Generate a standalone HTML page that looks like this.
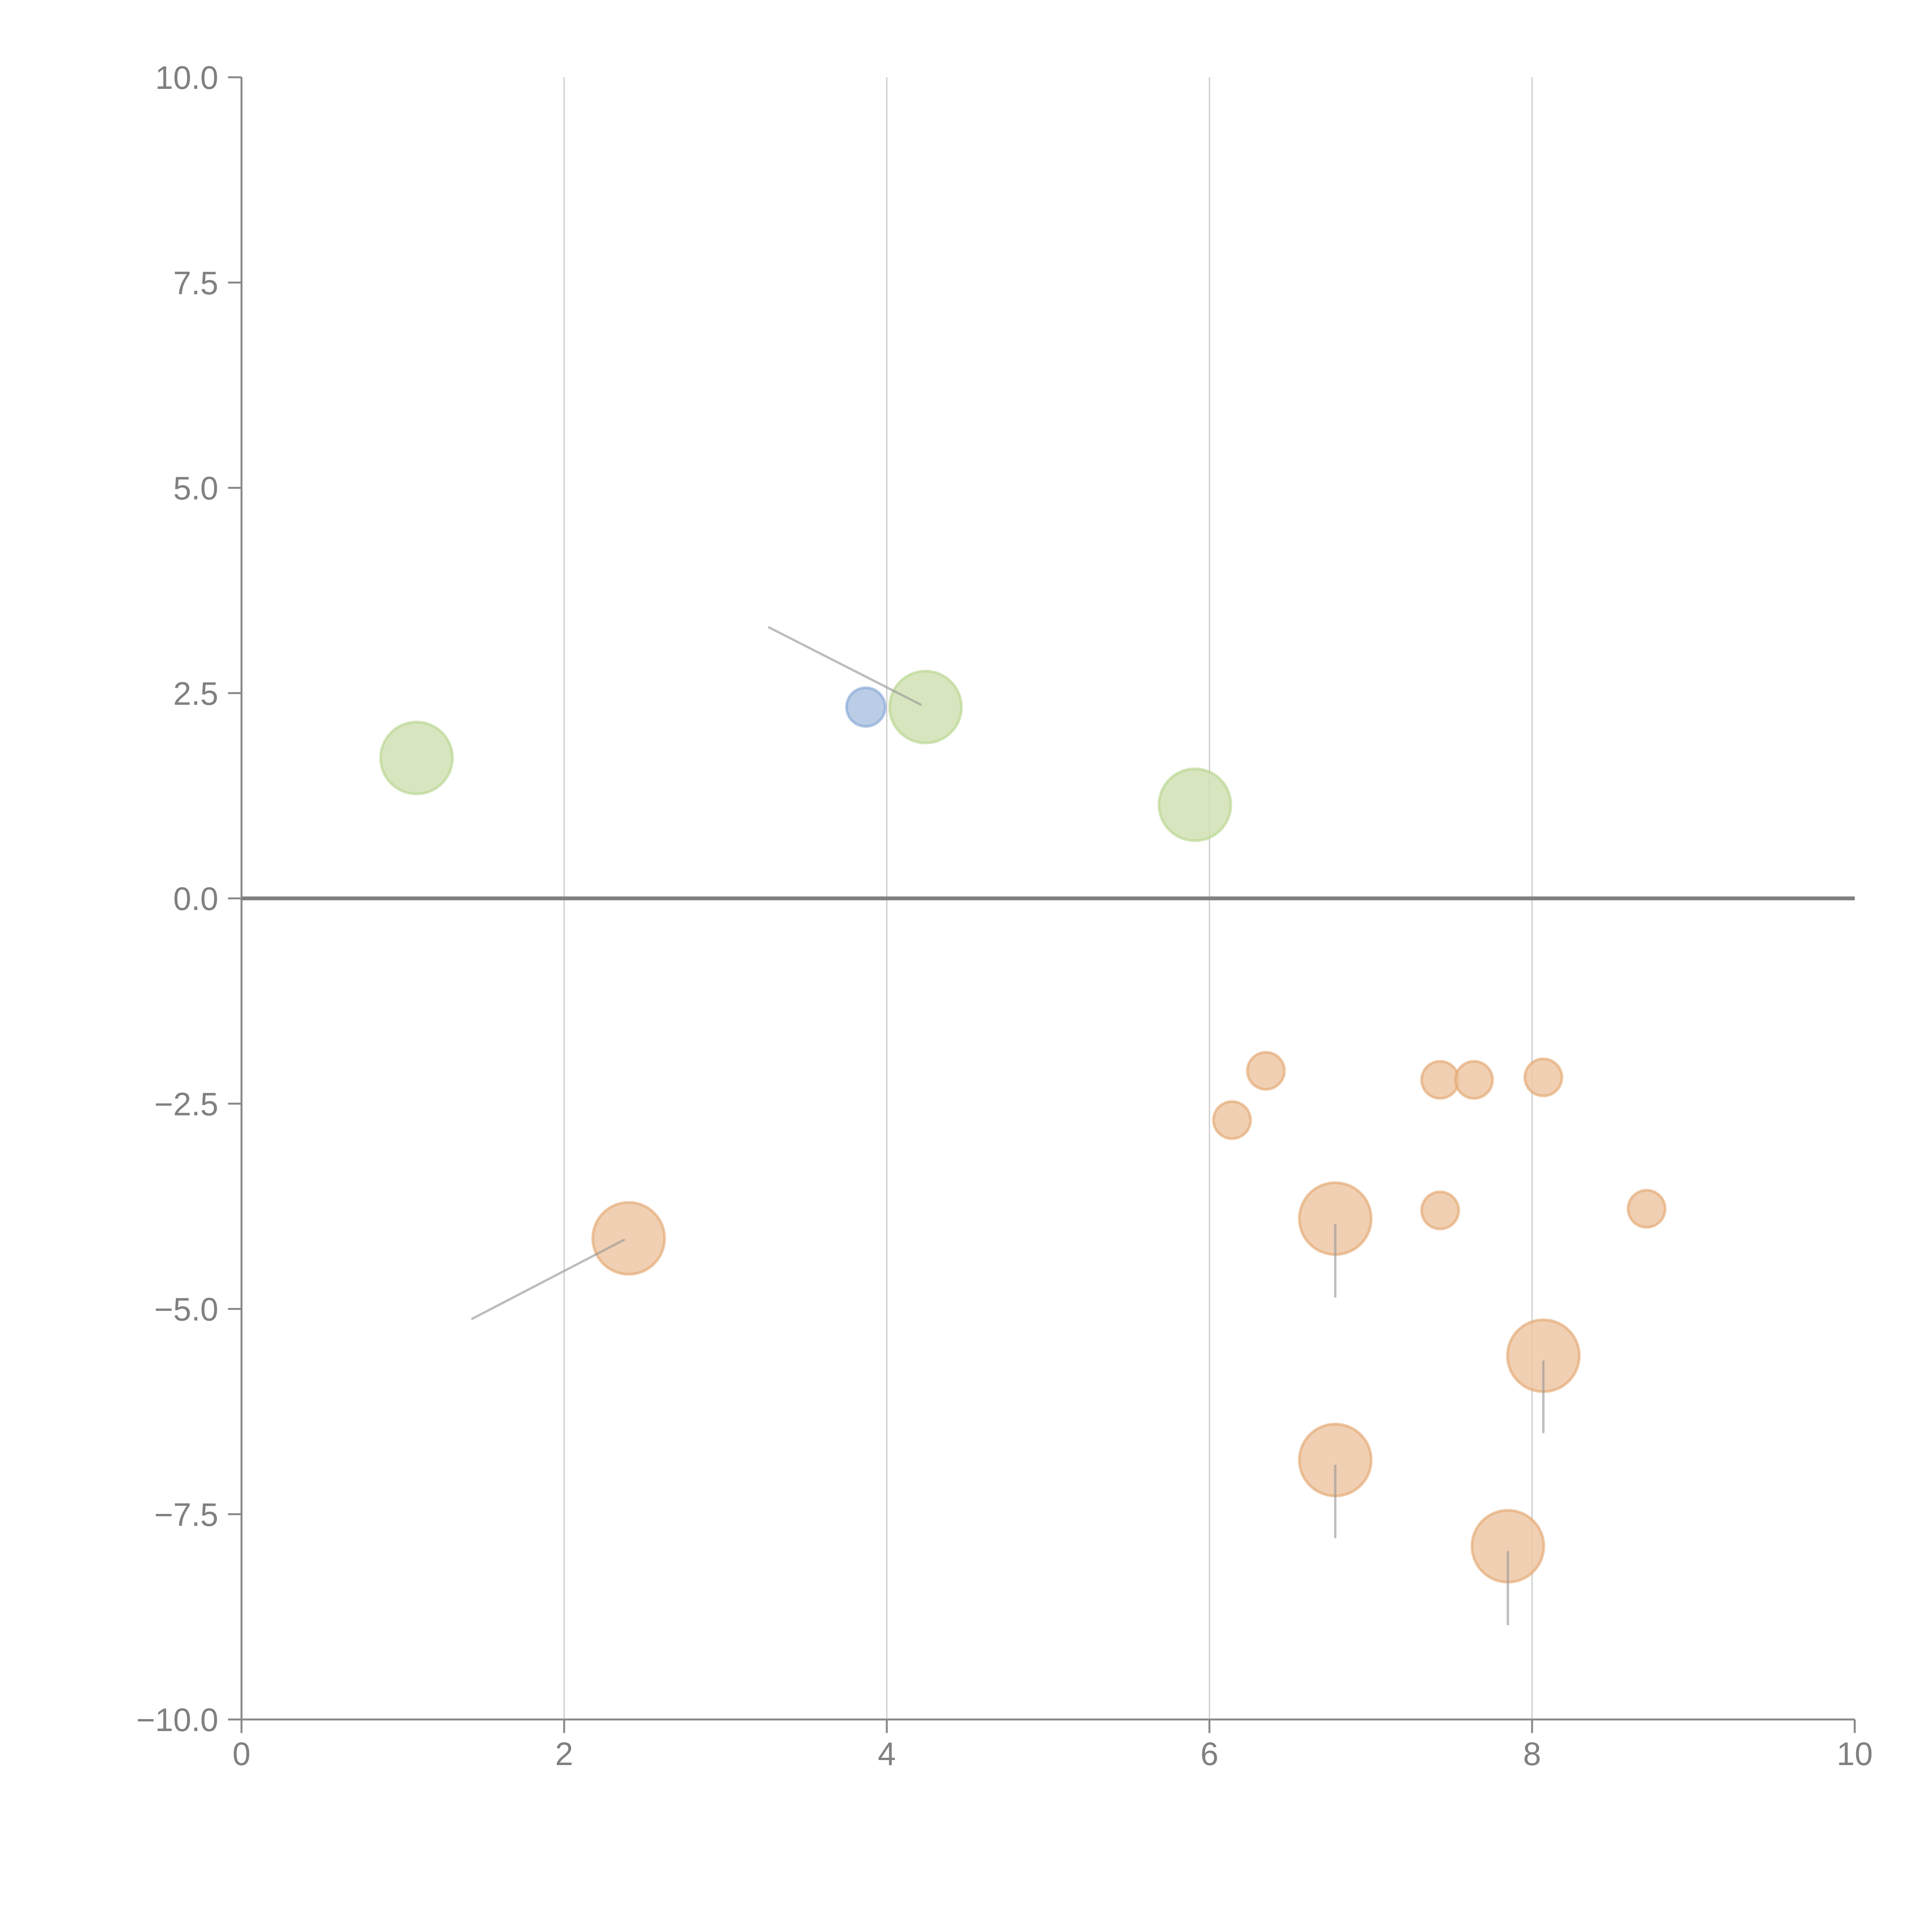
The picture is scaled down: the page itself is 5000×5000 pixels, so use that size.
<!DOCTYPE html>
<html><head><meta charset="utf-8"><style>
html,body{margin:0;padding:0;background:#fff;}
svg{display:block;}
text{font-family:"Liberation Sans",Arial,sans-serif;fill:#808080;}
</style></head><body>
<svg id="chart" width="5000" height="5000" viewBox="0 0 5000 5000" xmlns="http://www.w3.org/2000/svg">
<g id="grid"></g>
<g id="axes"></g>
<g id="leaders"></g>
<g id="marks"></g>
</svg>
<script>
const xTicks = [0, 2, 4, 6, 8, 10];
const yTicks = [10, 7.5, 5, 2.5, 0, -2.5, -5, -7.5, -10];
const yTickLabels = ["10.0", "7.5", "5.0", "2.5", "0.0", "\u22122.5", "\u22125.0", "\u22127.5", "\u221210.0"];
const gridX = [2, 4, 6, 8];

const greenX = [1.085, 4.24, 5.91];
const greenY = [1.71, 2.33, 1.14];
const blueX = [3.87];
const blueY = [2.33];
const orangeSmallX = [6.35, 6.14, 7.43, 7.64, 8.07, 7.43, 8.71];
const orangeSmallY = [-2.10, -2.70, -2.21, -2.21, -2.18, -3.80, -3.78];
const orangeBigX = [2.40, 6.78, 8.07, 6.78, 7.85];
const orangeBigY = [-4.14, -3.90, -5.57, -6.84, -7.89];

// leader lines: anchor point (data) -> label point (data)
const leaderFromX = [4.21, 2.37, 6.78, 8.07, 6.78, 7.85];
const leaderFromY = [2.36, -4.16, -3.98, -5.64, -6.91, -7.96];
const leaderToX = [3.27, 1.43, 6.78, 8.07, 6.78, 7.85];
const leaderToY = [3.30, -5.12, -4.85, -6.50, -7.78, -8.84];

const X0 = 625, X1 = 4800, Y0 = 200, Y1 = 4450;
const sx = v => X0 + (v - 0) / 10 * (X1 - X0);
const sy = v => Y0 + (10 - v) / 20 * (Y1 - Y0);
const NS = "http://www.w3.org/2000/svg";
function mk(tag, attrs, parent){
  const e = document.createElementNS(NS, tag);
  for (const k in attrs) e.setAttribute(k, attrs[k]);
  parent.appendChild(e);
  return e;
}
const grid = document.getElementById('grid');
const axes = document.getElementById('axes');
const leaders = document.getElementById('leaders');
const marks = document.getElementById('marks');

gridX.forEach(v => {
  const l = mk('line', {x1: sx(v), x2: sx(v), y1: Y0, y2: Y1, stroke: '#c8c8c8', 'stroke-width': 3}, grid);
  
  
});

// y axis
let a = mk('line', {x1: X0, x2: X0, y1: Y0, y2: Y1, stroke: '#888', 'stroke-width': 5}, axes);


a = mk('line', {x1: X0, x2: X1, y1: Y1, y2: Y1, stroke: '#888', 'stroke-width': 5}, axes);


a = mk('line', {x1: X0, x2: X1, y1: sy(0), y2: sy(0), stroke: '#808080', 'stroke-width': 10}, axes);



yTicks.forEach((v, i) => {
  const t = mk('line', {x1: X0 - 35, x2: X0, y1: sy(v), y2: sy(v), stroke: '#888', 'stroke-width': 5}, axes);
  
  
  const tx = mk('text', {x: X0 - 60, y: sy(v) + 30, 'font-size': 84, 'text-anchor': 'end'}, axes);
  tx.textContent = yTickLabels[i];
  
  
});
xTicks.forEach(v => {
  const t = mk('line', {x1: sx(v), x2: sx(v), y1: Y1, y2: Y1 + 35, stroke: '#888', 'stroke-width': 5}, axes);
  
  
  const tx = mk('text', {x: sx(v), y: Y1 + 118, 'font-size': 84, 'text-anchor': 'middle'}, axes);
  tx.textContent = String(v);
  
  
});

leaderFromX.forEach((v, i) => {
  const l = mk('line', {x1: sx(v), y1: sy(leaderFromY[i]), x2: sx(leaderToX[i]), y2: sy(leaderToY[i]),
    stroke: '#999', 'stroke-opacity': 0.65, 'stroke-width': 6, 'stroke-linecap': 'round'}, leaders);
  
  
});

function bubbles(xs, ys, r, fill, stroke, name){
  xs.forEach((v, i) => {
    const c = mk('circle', {cx: sx(v), cy: sy(ys[i]), r: r, fill: fill, 'fill-opacity': 0.85,
      stroke: stroke, 'stroke-opacity': 0.6, 'stroke-width': 7}, marks);
    
    
  });
}
bubbles(greenX, greenY, 93, '#d0e2b4', '#b5d38a', 'green-bubble');
bubbles(blueX, blueY, 50, '#afc4e2', '#7ea3d4', 'blue-bubble');
bubbles(orangeBigX, orangeBigY, 93, '#edc7a4', '#e3a46a', 'orange-large-bubble');
bubbles(orangeSmallX, orangeSmallY, 48, '#edc7a4', '#e3a46a', 'orange-small-bubble');
// redraw leaders above bubbles (they appear over circles)
marks.parentNode.appendChild(leaders);
</script>
</body></html>
